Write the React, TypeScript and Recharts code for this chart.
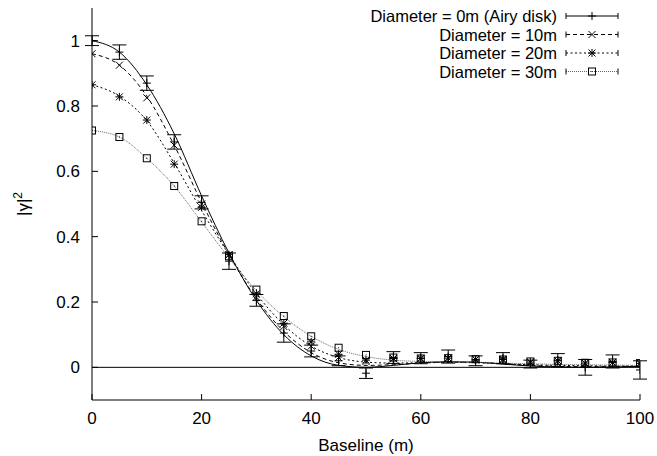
import React from "react";
import { ComposedChart, Line, Scatter, ErrorBar, XAxis, YAxis, ReferenceLine } from "recharts";

// baselines (m) where both the model curves and the measurements are sampled
const baselines = [0, 5, 10, 15, 20, 25, 30, 35, 40, 45, 50, 55, 60, 65, 70, 75, 80, 85, 90, 95, 100];

// model curves |gamma|^2
const airyCurve = [1.0, 0.965, 0.865, 0.715, 0.525, 0.35, 0.205, 0.1, 0.035, 0.006, 0.0, 0.006, 0.014, 0.017, 0.016, 0.01, 0.004, 0.001, 0.0, 0.001, 0.003];
const d10Curve = [0.96, 0.925, 0.83, 0.68, 0.505, 0.345, 0.21, 0.11, 0.045, 0.014, 0.006, 0.008, 0.013, 0.016, 0.015, 0.011, 0.006, 0.003, 0.002, 0.002, 0.003];
const d20Curve = [0.865, 0.83, 0.755, 0.625, 0.48, 0.345, 0.225, 0.13, 0.065, 0.03, 0.016, 0.013, 0.014, 0.015, 0.014, 0.011, 0.008, 0.006, 0.005, 0.004, 0.004];
const d30Curve = [0.725, 0.705, 0.64, 0.555, 0.445, 0.335, 0.235, 0.155, 0.095, 0.055, 0.033, 0.022, 0.018, 0.016, 0.015, 0.013, 0.011, 0.009, 0.008, 0.007, 0.006];

// measured points (only the Airy-disk set has visible error bars)
const airyPoints = [1.0, 0.965, 0.87, 0.69, 0.505, 0.325, 0.205, 0.105, 0.05, 0.02, -0.018, 0.03, 0.028, 0.033, 0.02, 0.028, 0.01, 0.022, 0.0, 0.018, -0.008];
const airyErrors = [0.015, 0.022, 0.022, 0.022, 0.02, 0.025, 0.018, 0.028, 0.018, 0.015, 0.016, 0.018, 0.017, 0.02, 0.015, 0.017, 0.012, 0.02, 0.024, 0.02, 0.028];
const d10Points = [0.96, 0.925, 0.825, 0.68, 0.5, 0.345, 0.215, 0.125, 0.065, 0.03, 0.018, 0.027, 0.027, 0.028, 0.024, 0.024, 0.015, 0.02, 0.012, 0.015, 0.012];
const d20Points = [0.865, 0.828, 0.757, 0.622, 0.49, 0.345, 0.225, 0.135, 0.078, 0.04, 0.022, 0.027, 0.027, 0.028, 0.024, 0.024, 0.016, 0.02, 0.013, 0.015, 0.012];
const d30Points = [0.725, 0.705, 0.64, 0.555, 0.447, 0.34, 0.238, 0.157, 0.095, 0.06, 0.038, 0.03, 0.027, 0.028, 0.025, 0.024, 0.018, 0.02, 0.014, 0.015, 0.013];

const xTicks = [0, 20, 40, 60, 80, 100];
const yTicks = [0, 0.2, 0.4, 0.6, 0.8, 1];
const seriesNames = ["Diameter = 0m (Airy disk)", "Diameter = 10m", "Diameter = 20m", "Diameter = 30m"];

const curveTable = baselines.map((x, i) => ({
    x,
    c0: airyCurve[i],
    c10: d10Curve[i],
    c20: d20Curve[i],
    c30: d30Curve[i],
}));

const toPoints = (vals: number[], errs?: number[]) =>
    baselines.map((x, i) => ({ x, y: vals[i], e: errs ? errs[i] : 0 }));

const FONT = "'Liberation Sans', Arial, Helvetica, sans-serif";
const FS = 17;
const KEY_FS = 16.5;
const INK = "#000";

// gnuplot-ish point glyphs
function PlusMark({ cx, cy }: any) {
    if (cx == null || cy == null) return null;
    return <path d={`M${cx - 4},${cy}h8M${cx},${cy - 4}v8`} stroke={INK} strokeWidth={1} fill="none" />;
}

function CrossMark({ cx, cy }: any) {
    if (cx == null || cy == null) return null;
    return <path d={`M${cx - 3.5},${cy - 3.5}l7,7M${cx - 3.5},${cy + 3.5}l7,-7`} stroke={INK} strokeWidth={1} fill="none" />;
}

function StarMark({ cx, cy }: any) {
    if (cx == null || cy == null) return null;
    return (
        <path
            d={`M${cx - 3.5},${cy - 3.5}l7,7M${cx - 3.5},${cy + 3.5}l7,-7M${cx - 4},${cy}h8M${cx},${cy - 4}v8`}
            stroke={INK}
            strokeWidth={1}
            fill="none"
        />
    );
}

function BoxMark({ cx, cy }: any) {
    if (cx == null || cy == null) return null;
    return (
        <g>
            <rect x={cx - 3.5} y={cy - 3.5} width={7} height={7} stroke={INK} strokeWidth={1} fill="none" />
            <rect x={cx - 0.5} y={cy - 0.5} width={1} height={1} fill={INK} />
        </g>
    );
}

const series = [
    { name: seriesNames[0], key: "c0", pts: toPoints(airyPoints, airyErrors), bars: true, mark: PlusMark, dash: undefined, stroke: INK },
    { name: seriesNames[1], key: "c10", pts: toPoints(d10Points), bars: false, mark: CrossMark, dash: "4 3", stroke: INK },
    { name: seriesNames[2], key: "c20", pts: toPoints(d20Points), bars: false, mark: StarMark, dash: "2 2.5", stroke: INK },
    { name: seriesNames[3], key: "c30", pts: toPoints(d30Points), bars: false, mark: BoxMark, dash: "1 1", stroke: "#666" },
];

function KeyOverlay() {
    return (
        <svg width={657} height={90} style={{ position: "absolute", left: 0, top: 0, pointerEvents: "none" }}>
            {series.map((s, i) => {
                const y = 16 + i * 18.5;
                const Mark = s.mark;
                return (
                    <g key={s.name}>
                        <text x={557} y={y + 6} textAnchor="end" fontSize={KEY_FS} fontFamily={FONT} fill={INK}>
                            {s.name}
                        </text>
                        <line x1={566} x2={618} y1={y} y2={y} stroke={s.stroke} strokeDasharray={s.dash} />
                        <line x1={566} x2={566} y1={y - 3} y2={y + 3} stroke={INK} />
                        <line x1={618} x2={618} y1={y - 3} y2={y + 3} stroke={INK} />
                        <Mark cx={592} cy={y} />
                    </g>
                );
            })}
        </svg>
    );
}

export default function App() {
    const tickStyle = { fill: INK, fontSize: FS, fontFamily: FONT };

    return (
        <div style={{ position: "absolute", left: 0, top: 0, width: 657, height: 456, background: "#fff" }}>
            <ComposedChart
                width={657}
                height={456}
                data={curveTable}
                margin={{ top: 8, right: 17, bottom: 0, left: 0 }}
            >
                <XAxis
                    dataKey="x"
                    type="number"
                    domain={[0, 100]}
                    ticks={xTicks}
                    allowDataOverflow
                    height={56}
                    tickSize={-6}
                    tickMargin={18}
                    tick={tickStyle}
                    stroke={INK}
                    label={() => (
                        <text x={366} y={451} textAnchor="middle" fontSize={FS} fontFamily={FONT} fill={INK}>
                            Baseline (m)
                        </text>
                    )}
                />
                <XAxis
                    xAxisId="top"
                    orientation="top"
                    type="number"
                    domain={[0, 100]}
                    ticks={xTicks}
                    allowDataOverflow
                    height={0}
                    tickSize={-6}
                    tick={false}
                    stroke={INK}
                />
                <YAxis
                    dataKey="y"
                    type="number"
                    domain={[-0.1, 1.1]}
                    ticks={yTicks}
                    allowDataOverflow
                    width={92}
                    tickSize={-6}
                    tickMargin={18}
                    tick={tickStyle}
                    stroke={INK}
                    label={() => (
                        <text
                            x={29}
                            y={204}
                            transform="rotate(-90 29 204)"
                            textAnchor="middle"
                            fontSize={FS}
                            fontFamily={FONT}
                            fill={INK}
                        >
                            |γ|<tspan dy={-7} fontSize={12}>2</tspan>
                        </text>
                    )}
                />
                <YAxis
                    yAxisId="right"
                    orientation="right"
                    type="number"
                    domain={[-0.1, 1.1]}
                    ticks={yTicks}
                    allowDataOverflow
                    width={0}
                    tickSize={-6}
                    tick={false}
                    stroke={INK}
                />
                <ReferenceLine y={0} stroke={INK} strokeWidth={1} />

                {series.map((s) => (
                    <Line
                        key={s.key}
                        dataKey={s.key}
                        type="monotone"
                        stroke={s.stroke}
                        strokeWidth={1}
                        strokeDasharray={s.dash}
                        dot={false}
                        activeDot={false}
                        isAnimationActive={false}
                    />
                ))}

                {series.map((s) => (
                    <Scatter
                        key={s.name}
                        name={s.name}
                        data={s.pts}
                        dataKey="y"
                        shape={s.mark}
                        isAnimationActive={false}
                    >
                        {s.bars ? <ErrorBar dataKey="e" direction="y" width={7} stroke={INK} strokeWidth={1} /> : null}
                    </Scatter>
                ))}
            </ComposedChart>
            <KeyOverlay />
        </div>
    );
}
